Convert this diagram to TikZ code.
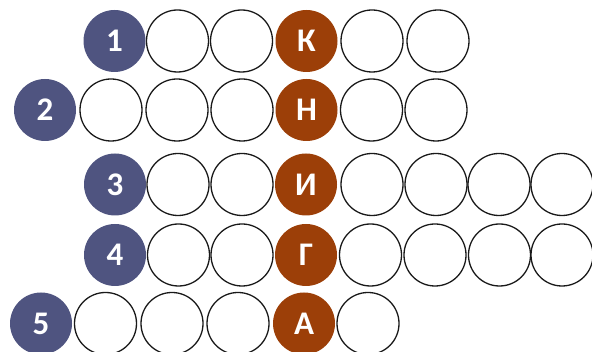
\documentclass[tikz,border=0pt]{standalone}
\usepackage{fontspec}
\setmainfont{Carlito}
\usetikzlibrary{positioning}
\definecolor{numbercolor}{RGB}{79, 84, 128}
\definecolor{lettercolor}{RGB}{156, 63, 8}
\definecolor{ringcolor}{RGB}{25, 25, 25}
\tikzset{
cell/.style={
  circle,
  minimum size=62pt,
  inner sep=0pt,
  font=\fontsize{33}{33}\selectfont\bfseries,
  text=white
},
numbercell/.style={
  cell,
  fill=numbercolor
},
lettercell/.style={
  cell,
  fill=lettercolor
},
emptycell/.style={
  cell,
  draw=ringcolor,
  line width=1.3pt,
  fill=white
}
}
\begin{document}
\begin{tikzpicture}[x=1pt, y=-1pt]
  \useasboundingbox (0,0) rectangle (592,352);
  % empty cells of each row
  \foreach \x [count=\i] in {177.5,241.5,372,438}
    \node[emptycell] (rowA-\i) at (\x,41) {};
  \foreach \x [count=\i] in {111,177,242,371.5,436}
    \node[emptycell] (rowB-\i) at (\x,110) {};
  \foreach \x [count=\i] in {178,242,372,436,499,562}
    \node[emptycell] (rowC-\i) at (\x,184.5) {};
  \foreach \x [count=\i] in {178.5,242,370.5,435,499.5,562}
    \node[emptycell] (rowD-\i) at (\x,255) {};
  \foreach \x [count=\i] in {105.5,172,238,368}
    \node[emptycell] (rowE-\i) at (\x,323.5) {};
  % numbers
  \node[numbercell] (num1) at (114.5,41) {1};
  \node[numbercell] (num2) at (45,110) {2};
  \node[numbercell] (num3) at (115,184.5) {3};
  \node[numbercell] (num4) at (115,255) {4};
  \node[numbercell] (num5) at (41,323.5) {5};
  % keyword column
  \node[lettercell] (let1) at (306.5,41) {К};
  \node[lettercell] (let2) at (306.5,110) {Н};
  \node[lettercell] (let3) at (306,184.5) {И};
  \node[lettercell] (let4) at (306,255) {Г};
  \node[lettercell] (let5) at (304,323.5) {А};
\end{tikzpicture}
\end{document}
